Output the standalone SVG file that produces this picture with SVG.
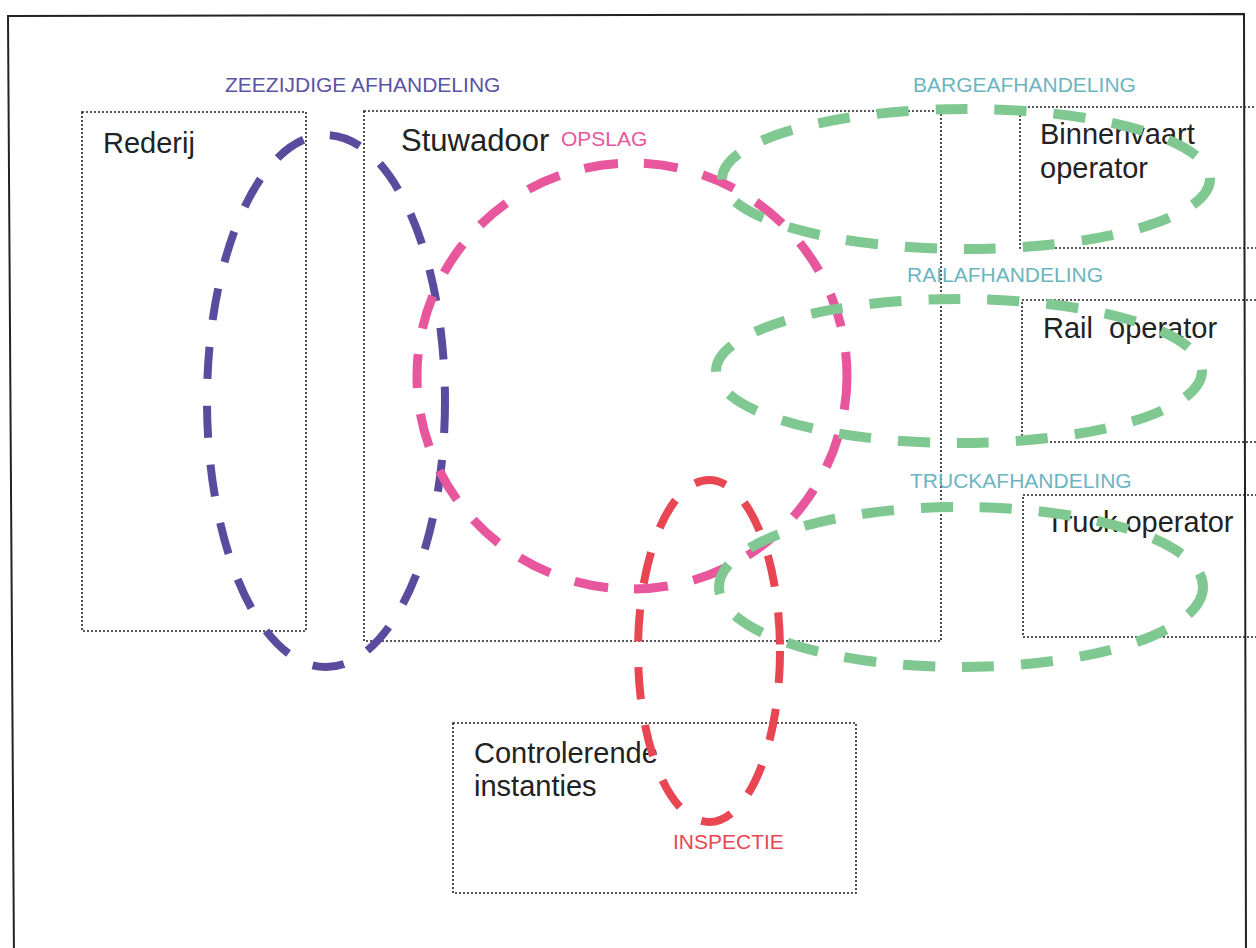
<svg xmlns="http://www.w3.org/2000/svg" width="1256" height="948" viewBox="0 0 1256 948">
<style>
.box{fill:none;stroke:#222;stroke-width:1.6;stroke-dasharray:2 2}
.lbl{font-family:"Liberation Sans",Arial,sans-serif;font-size:29px;fill:#222}
.cap{font-family:"Liberation Sans",Arial,sans-serif;font-size:21px}
.ell{fill:none;stroke-linecap:butt}
</style>
<rect width="1256" height="948" fill="#fff"/>
<path d="M14,960 L8,16 L1244,14 L1246,960" fill="none" stroke="#222" stroke-width="2"/>
<g id="rederij"><rect class="box" x="82" y="112" width="224" height="519"/><text class="lbl" x="103" y="153">Rederij</text></g>
<g id="stuwadoor"><rect class="box" x="364" y="111" width="577" height="530"/><text class="lbl" x="401" y="151" style="font-size:31px">Stuwadoor</text></g>
<g id="binnenvaart"><rect class="box" x="1020" y="107" width="250" height="141"/><text class="lbl" x="1040" y="144">Binnenvaart</text><text class="lbl" x="1040" y="178">operator</text></g>
<g id="rail"><rect class="box" x="1022" y="300" width="250" height="142"/><text class="lbl" x="1043" y="338" xml:space="preserve">Rail  operator</text></g>
<g id="truck"><rect class="box" x="1023" y="495" width="250" height="142"/><text class="lbl" x="1046" y="532">Truck operator</text></g>
<g id="controlerende"><rect class="box" x="453" y="723" width="403" height="170"/><text class="lbl" x="474" y="763">Controlerende</text><text class="lbl" x="474" y="796">instanties</text></g>
<g id="areas">
<ellipse class="ell" cx="326" cy="401" rx="119" ry="266" stroke="#5b4b9f" stroke-width="8" stroke-dasharray="32 27"/>
<ellipse class="ell" cx="632" cy="376" rx="215" ry="213" stroke="#e8579d" stroke-width="9" stroke-dasharray="34 26"/>
<ellipse class="ell" cx="709" cy="651" rx="71" ry="171" stroke="#e84653" stroke-width="8" stroke-dasharray="32 26"/>
<ellipse class="ell" cx="966" cy="179" rx="244" ry="70" stroke="#80c891" stroke-width="10" stroke-dasharray="32 27"/>
<ellipse class="ell" cx="959" cy="371" rx="243" ry="72" stroke="#80c891" stroke-width="10" stroke-dasharray="32 27"/>
<ellipse class="ell" cx="961" cy="587" rx="242" ry="80" stroke="#80c891" stroke-width="10" stroke-dasharray="32 27"/>
</g>
<g id="labels">
<text class="cap" x="225" y="92" fill="#5b53a6">ZEEZIJDIGE AFHANDELING</text>
<text class="cap" x="561" y="146" fill="#e8579d">OPSLAG</text>
<text class="cap" x="913" y="92" fill="#6cb4bf">BARGEAFHANDELING</text>
<text class="cap" x="907" y="282" fill="#6cb4bf">RAILAFHANDELING</text>
<text class="cap" x="910" y="488" fill="#6cb4bf">TRUCKAFHANDELING</text>
<text class="cap" x="673" y="849" fill="#e84653">INSPECTIE</text>
</g>
</svg>
